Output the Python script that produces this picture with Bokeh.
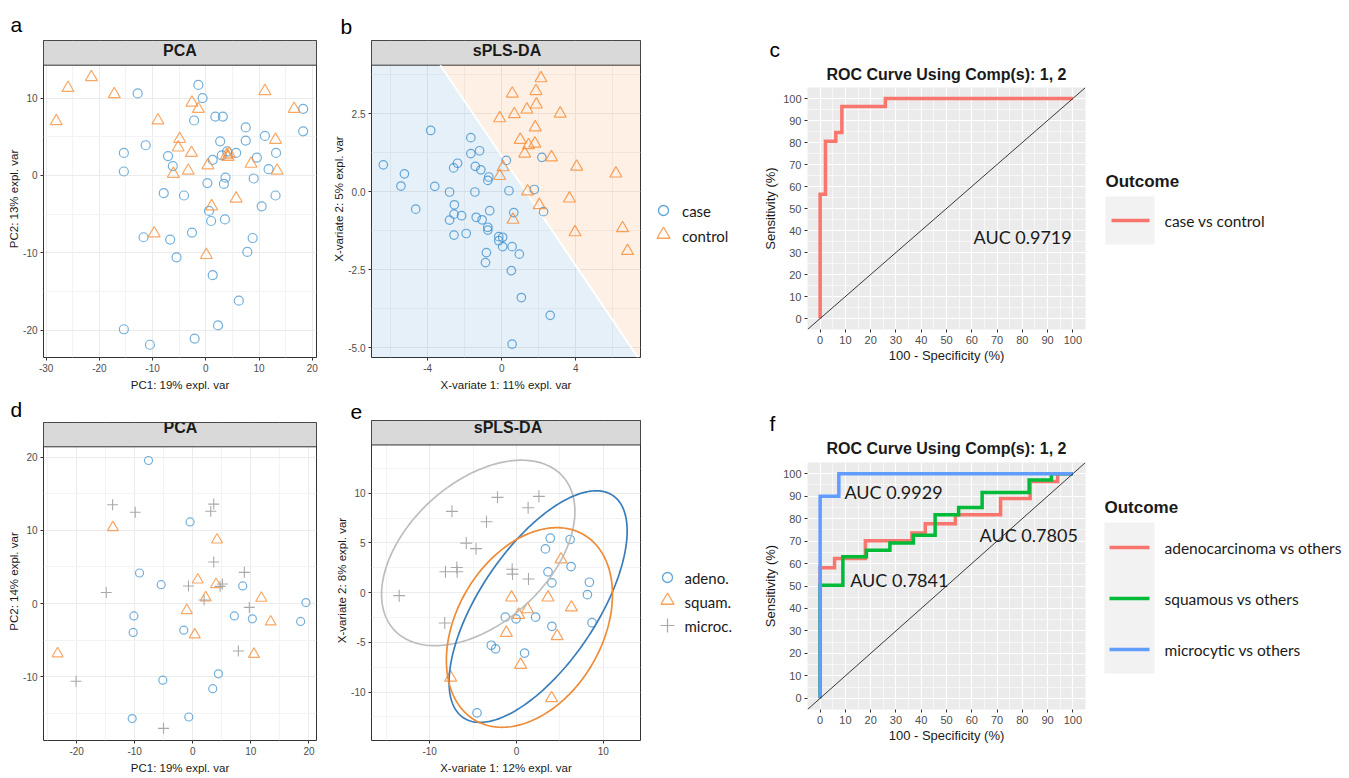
import numpy as np
from bokeh.plotting import figure
from bokeh.models import Range1d, FixedTicker, PrintfTickFormatter, Label, Slope, Title
from bokeh.layouts import row, column
from bokeh.embed import file_html
from bokeh.resources import INLINE
from bokeh.core.properties import value

# ----------------------------------------------------------------- data
# a: PCA case / control
a_case_x = [-12.8, -1.4, -0.6, -2.2, 1.8, 3.2, 18.3, 18.3, 7.5, 7.5, 11.1, 2.7, -11.3, -15.4, -15.4, -7.1,
            -6.2, 3.0, 4.0, 5.7, 1.3, 9.6, 13.2, 11.8, 3.7, 3.4, 0.3, 9.0, -7.9, -4.1, 13.1, 10.5, 0.6,
            1.0, 3.6, -2.6, -11.7, -6.7, 8.8, 7.8, -5.5, 1.3, 6.2, 2.3, -2.1, -15.4, -10.5]
a_case_y = [10.6, 11.7, 10.0, 7.1, 7.6, 7.6, 8.6, 5.7, 6.2, 4.5, 5.1, 4.4, 3.9, 2.9, 0.5, 2.5,
            1.2, 2.6, 3.1, 2.9, 2.0, 2.3, 2.9, 0.8, -0.3, -1.1, -1.0, -0.4, -2.3, -2.6, -2.6, -4.0, -4.6,
            -5.9, -5.7, -7.4, -8.0, -8.3, -8.1, -9.9, -10.6, -12.9, -16.2, -19.4, -21.1, -19.9, -21.9]
a_ctrl_x = [-28.1, -25.9, -21.5, -17.2, -9.0, -2.6, -1.4, -4.9, -5.2, -2.7, -6.1, -3.3, 0.4, 3.9, 4.4,
            4.2, 1.1, 5.7, 8.5, 11.1, 13.1, 13.4, 16.6, -9.7, 0.1]
a_ctrl_y = [7.0, 11.3, 12.7, 10.5, 7.1, 9.4, 8.6, 4.7, 3.6, 2.9, 0.2, 0.6, 1.3, 2.6, 2.8,
            2.4, -4.0, -3.0, 1.5, 10.9, 4.6, 0.6, 8.6, -7.5, -10.3]

# b: sPLS-DA case / control
b_case_x = [-3.84, -6.40, -5.26, -5.45, -3.62, -4.65, -1.67, -1.67, -1.20, -2.39, -2.60, -1.43, -1.13, -0.70,
            -0.75, 0.25, 2.17, -2.82, -1.45, 0.39, 1.76, -2.56, -2.58, -2.17, -2.82, -1.38, -1.06, -0.65,
            0.65, 2.26, -0.75, -0.75, -2.58, -1.92, -0.16, 0.05, -0.16, 0.05, 0.56, 0.95, -0.83, -0.88,
            0.52, 1.06, 2.62, 0.56]
b_case_y = [1.96, 0.86, 0.57, 0.18, 0.17, -0.56, 1.73, 1.22, 1.31, 0.91, 0.76, 0.81, 0.70, 0.47,
            0.36, 1.0, 1.10, -0.01, -0.01, 0.03, 0.07, -0.42, -0.72, -0.77, -0.91, -0.82, -0.90, -0.61,
            -0.67, -0.64, -1.14, -1.23, -1.39, -1.34, -1.44, -1.46, -1.57, -1.76, -1.76, -2.0, -1.95, -2.27,
            -2.53, -3.39, -3.96, -4.88]
b_ctrl_x = [2.12, 0.57, 1.85, 1.87, 0.68, 1.36, 3.16, -0.11, 1.81, 1.0, 1.45, 1.79, 1.24, 2.69, 4.05,
            6.17, 0.07, -0.11, 1.4, 3.66, 2.03, 0.61, 3.96, 6.53, 6.80]
b_ctrl_y = [3.63, 3.14, 3.22, 2.79, 2.48, 2.63, 2.50, 2.35, 2.06, 1.66, 1.49, 1.54, 1.22, 1.10, 0.80,
            0.58, 0.78, 0.5, 0.01, -0.22, -0.43, -0.90, -1.30, -1.17, -1.90]
b_boundary_x = [-3.32, 7.36]
b_boundary_y = [4.05, -5.31]

# c: ROC case vs control
c_fpr = [0, 0, 2.1, 2.1, 6.2, 6.2, 8.6, 8.6, 25.8, 25.8, 100]
c_tpr = [0, 56.5, 56.5, 80.6, 80.6, 84.5, 84.5, 96.4, 96.4, 100, 100]
c_auc = "AUC 0.9719"
c_outcome = ["case vs control"]

# d: PCA histology
d_adeno_x = [-7.62, -0.46, -9.17, -5.44, -10.14, -10.26, -1.55, 8.6, 7.16, 10.26, 19.48, 18.57, 4.41, -5.16,
             3.44, -10.43, -0.69]
d_adeno_y = [19.53, 11.14, 4.17, 2.57, -1.69, -3.95, -3.64, 2.4, -1.69, -2.09, 0.13, -2.44, -9.59, -10.47,
             -11.63, -15.71, -15.49]
d_squam_x = [-13.75, 4.18, 0.86, 4.01, 2.23, -1.03, 0.34, 11.8, 13.41, 10.54, -23.27]
d_squam_y = [10.39, 8.7, 3.24, 2.62, 0.8, -0.93, -4.26, 0.75, -2.49, -6.92, -6.84]
d_micro_x = [-13.8, -9.91, 3.61, 3.09, 3.61, 8.88, 5.1, 4.7, -0.74, 1.95, -14.9, 9.74, 7.85, -20.1, -5.04]
d_micro_y = [13.49, 12.47, 13.58, 12.6, 5.68, 4.26, 2.66, 2.35, 2.4, 0.49, 1.51, -0.53, -6.48, -10.6, -17.04]

# e: sPLS-DA histology
e_adeno_x = [3.9, 3.34, 6.19, 3.64, 6.3, 4.09, 8.41, 8.18, 8.71, -1.28, -0.04, 2.21, 4.09, -2.89, -2.4,
             0.94, -4.54]
e_adeno_y = [5.48, 4.4, 5.35, 2.1, 2.63, 0.99, 1.05, -0.2, -3.02, -2.46, -2.63, -2.46, -3.38, -5.29, -5.65,
             -6.08, -12.09]
e_squam_x = [5.14, -0.56, 3.64, 6.34, 1.28, 0.26, -1.16, 4.69, 0.49, -7.58, 4.05]
e_squam_y = [3.35, -0.49, -0.49, -1.48, -1.67, -2.23, -4.04, -4.37, -7.26, -8.54, -10.61]
e_micro_x = [-7.43, -2.18, 2.59, 1.35, -3.45, -5.78, -4.65, -6.87, -8.18, -6.83, -0.49, -0.45, 1.39,
             -13.51, -8.26]
e_micro_y = [8.18, 9.59, 9.69, 8.54, 7.13, 4.99, 4.43, 2.53, 2.1, 2.1, 2.36, 1.87, 1.38, -0.3, -3.05]
# confidence ellipses: centre x, centre y, var x, var y, cov xy
e_ell_micro = [-4.4, 4.0, 124.1, 87.0, 46.5]
e_ell_adeno = [2.5, -1.4, 105.3, 135.7, 78.0]
e_ell_squam = [1.5, -3.5, 91.6, 100.8, 31.7]

# f: ROC histology
f_adeno_fpr = [0, 0, 5.7, 5.7, 17.9, 17.9, 36.3, 36.3, 41.6, 41.6, 53.5, 53.5, 71.4, 71.4, 83.1, 83.1, 94, 94, 100]
f_adeno_tpr = [0, 58.1, 58.1, 62.2, 62.2, 70.2, 70.2, 73.6, 73.6, 77.7, 77.7, 81.7, 81.7, 89, 89, 96.5, 96.5,
               100, 100]
f_squam_fpr = [0, 0, 9.0, 9.0, 18.3, 18.3, 27.6, 27.6, 36.9, 36.9, 45.5, 45.5, 54.8, 54.8, 64.1, 64.1,
               82.7, 82.7, 91.5, 91.5, 100]
f_squam_tpr = [0, 50.3, 50.3, 63, 63, 65.9, 65.9, 69.2, 69.2, 72.6, 72.6, 81.7, 81.7, 85, 85, 91.6, 91.6,
               97.2, 97.2, 100, 100]
f_micro_fpr = [0, 0, 7.4, 7.4, 100]
f_micro_tpr = [0, 90, 90, 100, 100]
f_auc = ["AUC 0.9929", "AUC 0.7805", "AUC 0.7841"]
f_outcome = ["adenocarcinoma vs others", "squamous vs others", "microcytic vs others"]

# ----------------------------------------------------------------- style
SANS = "Liberation Sans"
CAL = "Lato"
BLUE, ORANGE, GREY = "#388ECC", "#F68B33", "#A9A9A9"
R_RED, R_GREEN, R_BLUE = "#F8766D", "#00BA38", "#619CFF"
R1_TOP, R1_H = 0, 393
R2_TOP, R2_H = 393, 383
STRIP = 25
PL_SIZE = "21px"


def style_axes(p, tick_size, label_size, tick_out=3, lab_standoff=2, ax_standoff=1):
    for ax in (p.xaxis[0], p.yaxis[0]):
        ax.axis_line_color = None
        ax.major_tick_line_color = "#333333"
        ax.major_tick_out = tick_out
        ax.major_tick_in = 0
        ax.minor_tick_line_color = None
        ax.major_label_text_font = SANS
        ax.major_label_text_font_size = tick_size
        ax.major_label_text_color = "#4D4D4D"
        ax.major_label_standoff = lab_standoff
        ax.axis_label_text_font = SANS
        ax.axis_label_text_font_size = label_size
        ax.axis_label_text_font_style = "normal"
        ax.axis_label_text_color = "#1A1A1A"
        ax.axis_label_standoff = ax_standoff


def make_fig(x0, w, top, h, L, R, T, B, xr, yr):
    p = figure(width=w, height=h, x_range=Range1d(*xr), y_range=Range1d(*yr), title=None,
               output_backend="svg", toolbar_location=None,
               min_border_left=L - x0, min_border_right=x0 + w - R,
               min_border_top=T - top, min_border_bottom=top + h - B)
    p.background_fill_color = "white"
    p.border_fill_color = "white"
    return p


def set_ticks(p, xt, xm, yt, ym, xfmt, yfmt):
    tx = FixedTicker(ticks=xt, minor_ticks=xm)
    ty = FixedTicker(ticks=yt, minor_ticks=ym)
    p.xaxis.ticker = tx
    p.xgrid.ticker = tx
    p.yaxis.ticker = ty
    p.ygrid.ticker = ty
    p.xaxis.formatter = PrintfTickFormatter(format=xfmt)
    p.yaxis.formatter = PrintfTickFormatter(format=yfmt)


def panel_letter(p, L, x, letter, standoff):
    p.add_layout(Title(text=letter, align="left", offset=x - L, standoff=standoff,
                       text_font=SANS, text_font_size=PL_SIZE, text_font_style="normal",
                       text_color="black"), "above")


def facet(x0, w, top, h, L, R, T, B, xr, yr, title, xlabel, ylabel, xt, xm, yt, ym, xfmt, yfmt,
          plabel, plx, pl_standoff):
    ph = B - T - STRIP
    ytop = yr[1] + STRIP * (yr[1] - yr[0]) / ph
    p = make_fig(x0, w, top, h, L, R, T, B, xr, (yr[0], ytop))
    p.outline_line_color = "#333333"
    p.outline_line_width = 1
    set_ticks(p, xt, xm, yt, ym, xfmt, yfmt)
    p.grid.grid_line_color = "#EBEBEB"
    p.grid.grid_line_width = 1
    p.grid.minor_grid_line_color = "#F3F3F3"
    p.quad(left=xr[0], right=xr[1], bottom=yr[1], top=ytop, fill_color="#D9D9D9",
           line_color="#333333", line_width=1)
    p.add_layout(Label(x=(R - L) / 2, y=B - (T + STRIP / 2 + 1), x_units="screen", y_units="screen",
                       text=title, text_font=SANS, text_font_size="16px", text_font_style="bold",
                       text_align="center", text_baseline="middle", text_color="#1A1A1A"))
    panel_letter(p, L, plx, plabel, pl_standoff)
    style_axes(p, "10px", "11.5px")
    p.xaxis.axis_label = xlabel
    p.xaxis.axis_label_standoff = 4
    # y title centred on the panel itself (not on panel + strip), as ggplot does
    p.add_layout(Title(text=ylabel, align="center", offset=-STRIP / 2, standoff=1,
                       text_font=SANS, text_font_size="11.5px", text_font_style="normal",
                       text_color="#1A1A1A"), "left")
    return p


def roc(x0, w, top, h, L, R, T, B, plabel, plx, title_standoff, letter_standoff):
    p = make_fig(x0, w, top, h, L, R, T, B, (-5, 105), (-5, 105))
    p.background_fill_color = "#EBEBEB"
    p.outline_line_color = None
    ticks = list(range(0, 101, 10))
    minor = list(range(5, 100, 10))
    set_ticks(p, ticks, minor, ticks, minor, "%d", "%d")
    p.grid.grid_line_color = "white"
    p.grid.grid_line_width = 1.2
    p.grid.minor_grid_line_color = "white"
    p.grid.minor_grid_line_width = 0.6
    p.add_layout(Slope(gradient=1, y_intercept=0, line_color="#222222", line_width=0.9))
    style_axes(p, "11px", "13px", tick_out=3, lab_standoff=2, ax_standoff=2)
    p.xaxis.axis_label_standoff = 1
    p.xaxis.axis_label = "100 - Specificity (%)"
    p.yaxis.axis_label = "Sensitivity (%)"
    p.add_layout(Title(text="ROC Curve Using Comp(s): 1, 2", align="center", standoff=title_standoff,
                       text_font=SANS, text_font_size="16px", text_font_style="bold",
                       text_color="#1A1A1A"), "above")
    panel_letter(p, L, plx, plabel, letter_standoff)
    return p


def pixel_fig(x0, w, top, h):
    p = figure(width=w, height=h, x_range=Range1d(x0, x0 + w), y_range=Range1d(top + h, top),
               title=None, output_backend="svg", toolbar_location=None,
               x_axis_type=None, y_axis_type=None, min_border=0)
    p.outline_line_color = None
    p.background_fill_color = "white"
    p.border_fill_color = "white"
    return p


# column boundaries (page pixels)
C1, C2, C3, C4, C5 = 0, 330, 648, 755, 1095
W1, W2, W3, W4, W5 = C2 - C1, C3 - C2, C4 - C3, C5 - C4, 252

# ----------------------------------------------------------------- panel a
pa = facet(C1, W1, R1_TOP, R1_H, 43, 316, 40, 361, (-30.5, 20.8), (-23.55, 14.25), "PCA",
           "PC1: 19% expl. var", "PC2: 13% expl. var",
           [-30, -20, -10, 0, 10, 20], [-25, -15, -5, 5, 15], [-20, -10, 0, 10], [-15, -5, 5],
           "%d", "%d", "a", 10, 8.5)
pa.scatter(a_case_x, a_case_y, marker="circle", size=9, fill_color=None, line_color=BLUE,
           line_width=1.2, line_alpha=0.7)
pa.scatter(a_ctrl_x, a_ctrl_y, marker="triangle", size=12, fill_color=None, line_color=ORANGE,
           line_width=1.2, line_alpha=0.75)

# ----------------------------------------------------------------- panel b
B_XR, B_YR = (-7.04, 7.5), (-5.31, 4.05)
pb = facet(C2, W2, R1_TOP, R1_H, 369, 640, 40, 361, B_XR, B_YR, "sPLS-DA",
           "X-variate 1: 11% expl. var", "X-variate 2: 5% expl. var",
           [-4, 0, 4], [-6, -2, 2, 6], [-5.0, -2.5, 0.0, 2.5], [-3.75, -1.25, 1.25, 3.75],
           "%d", "%.1f", "b", 338, 4.5)
slope_b = (b_boundary_y[1] - b_boundary_y[0]) / (b_boundary_x[1] - b_boundary_x[0])
x_top = b_boundary_x[0] + (B_YR[1] - b_boundary_y[0]) / slope_b
x_bot = b_boundary_x[0] + (B_YR[0] - b_boundary_y[0]) / slope_b
pb.patch([B_XR[0], x_top, x_bot, B_XR[0]], [B_YR[1], B_YR[1], B_YR[0], B_YR[0]],
         fill_color=BLUE, fill_alpha=0.13, line_color=None)
pb.patch([x_top, B_XR[1], B_XR[1], x_bot], [B_YR[1], B_YR[1], B_YR[0], B_YR[0]],
         fill_color=ORANGE, fill_alpha=0.13, line_color=None)
pb.line([x_top, x_bot], [B_YR[1], B_YR[0]], line_color="white", line_width=2)
pb.scatter(b_case_x, b_case_y, marker="circle", size=8.5, fill_color=None, line_color=BLUE,
           line_width=1.2, line_alpha=0.75)
pb.scatter(b_ctrl_x, b_ctrl_y, marker="triangle", size=12, fill_color=None, line_color=ORANGE,
           line_width=1.2, line_alpha=0.8)

# legend b
lb = pixel_fig(C3, W3, R1_TOP, R1_H)
lb.scatter([663], [210], marker="circle", size=10, fill_color=None, line_color=BLUE, line_width=1.3,
           line_alpha=0.8)
lb.scatter([663], [234], marker="triangle", size=13, fill_color=None, line_color=ORANGE,
           line_width=1.3, line_alpha=0.8)
lb.text([681.5, 681.5], [210, 235], text=["case", "control"], text_font=value(CAL),
        text_font_size="15px", text_baseline="middle", text_color="#1A1A1A")

# ----------------------------------------------------------------- panel c
pc = roc(C4, W4, R1_TOP, R1_H, 807, 1085, 87, 329, "c", 769, 10, -4)
pc.line(c_fpr, c_tpr, line_color=R_RED, line_width=3.5, line_join="miter")
pc.text([60.7], [37.1], text=[c_auc], text_font=value(CAL), text_font_size="18px",
        text_baseline="middle", text_color="#1A1A1A")

lc = pixel_fig(C5, W5, R1_TOP, R1_H)
lc.text([1105], [181], text=["Outcome"], text_font=value(SANS), text_font_size="17px",
        text_font_style="bold", text_baseline="middle", text_color="#1A1A1A")
lc.quad(left=1105, right=1154, top=196, bottom=244, fill_color="#F2F2F2", line_color=None)
lc.line([1111, 1149], [220, 220], line_color=R_RED, line_width=3.5)
lc.text([1164], [220], text=c_outcome, text_font=value(CAL), text_font_size="15.5px",
        text_baseline="middle", text_color="#1A1A1A")

# ----------------------------------------------------------------- panel d
pd_ = facet(C1, W1, R2_TOP, R2_H, 43, 317, 420, 747, (-25.7, 21.3), (-18.7, 21.4), "PCA",
            "PC1: 19% expl. var", "PC2: 14% expl. var",
            [-20, -10, 0, 10, 20], [-25, -15, -5, 5, 15], [-10, 0, 10, 20], [-15, -5, 5, 15],
            "%d", "%d", "d", 10, 3.5)
pd_.scatter(d_adeno_x, d_adeno_y, marker="circle", size=8, fill_color=None, line_color=BLUE,
            line_width=1.2, line_alpha=0.7)
pd_.scatter(d_squam_x, d_squam_y, marker="triangle", size=11, fill_color=None, line_color=ORANGE,
            line_width=1.2, line_alpha=0.75)
pd_.scatter(d_micro_x, d_micro_y, marker="cross", size=11, line_color=GREY, line_width=1.1)

# ----------------------------------------------------------------- panel e
pe = facet(C2, W2, R2_TOP, R2_H, 368, 641, 420, 747, (-16.7, 14.3), (-14.87, 14.86), "sPLS-DA",
           "X-variate 1: 12% expl. var", "X-variate 2: 8% expl. var",
           [-10, 0, 10], [-15, -5, 5], [-10, -5, 0, 5, 10], [-12.5, -7.5, -2.5, 2.5, 7.5, 12.5],
           "%d", "%d", "e", 347, 3.5)
pe.scatter(e_adeno_x, e_adeno_y, marker="circle", size=8.5, fill_color=None, line_color=BLUE,
           line_width=1.2, line_alpha=0.75)
pe.scatter(e_squam_x, e_squam_y, marker="triangle", size=12, fill_color=None, line_color=ORANGE,
           line_width=1.2, line_alpha=0.8)
pe.scatter(e_micro_x, e_micro_y, marker="cross", size=12, line_color=GREY, line_width=1.1)
t = np.linspace(0, 2 * np.pi, 241)
for ell, col in ((e_ell_micro, "#BDBDBD"), (e_ell_adeno, "#3A7DBA"), (e_ell_squam, "#EF8A35")):
    cx, cy, sxx, syy, sxy = ell
    l11 = np.sqrt(sxx)
    l21 = sxy / l11
    l22 = np.sqrt(syy - l21 ** 2)
    pe.line(cx + l11 * np.cos(t), cy + l21 * np.cos(t) + l22 * np.sin(t), line_color=col,
            line_width=1.7)

le = pixel_fig(C3, W3, R2_TOP, R2_H)
le.scatter([667], [577], marker="circle", size=10, fill_color=None, line_color=BLUE, line_width=1.3,
           line_alpha=0.8)
le.scatter([667], [600], marker="triangle", size=13, fill_color=None, line_color=ORANGE,
           line_width=1.3, line_alpha=0.8)
le.scatter([667], [625], marker="cross", size=14, line_color=GREY, line_width=1.2)
le.text([684, 684, 684], [577, 601, 625], text=["adeno.", "squam.", "microc."], text_font=value(CAL),
        text_font_size="15px", text_baseline="middle", text_color="#1A1A1A")

# ----------------------------------------------------------------- panel f
pf = roc(C4, W4, R2_TOP, R2_H, 807, 1085, 462, 709, "f", 769, 11, -4)
pf.line(f_adeno_fpr, f_adeno_tpr, line_color=R_RED, line_width=3.5, line_join="miter")
pf.line(f_squam_fpr, f_squam_tpr, line_color=R_GREEN, line_width=3.5, line_join="miter")
pf.line(f_micro_fpr, f_micro_tpr, line_color=R_BLUE, line_width=3.5, line_join="miter")
pf.text([9.6, 63.1, 11.9], [91.9, 72.5, 52.8], text=f_auc, text_font=value(CAL),
        text_font_size="18px", text_baseline="middle", text_color="#1A1A1A")

lf = pixel_fig(C5, W5, R2_TOP, R2_H)
lf.text([1104], [507], text=["Outcome"], text_font=value(SANS), text_font_size="17px",
        text_font_style="bold", text_baseline="middle", text_color="#1A1A1A")
lf.quad(left=1104, right=1154, top=522, bottom=673, fill_color="#F2F2F2", line_color=None)
for yy, col in ((547, R_RED), (598, R_GREEN), (649, R_BLUE)):
    lf.line([1109, 1149], [yy, yy], line_color=col, line_width=3.5)
lf.text([1164, 1164, 1164], [547, 598, 649], text=f_outcome, text_font=value(CAL),
        text_font_size="15.5px", text_baseline="middle", text_color="#1A1A1A")

# columns first so that figures of different panels do not share frame borders
layout = row(column(pa, pd_), column(pb, pe), column(lb, le), column(pc, pf), column(lc, lf))
open("out.html", "w").write(file_html(layout, INLINE))
